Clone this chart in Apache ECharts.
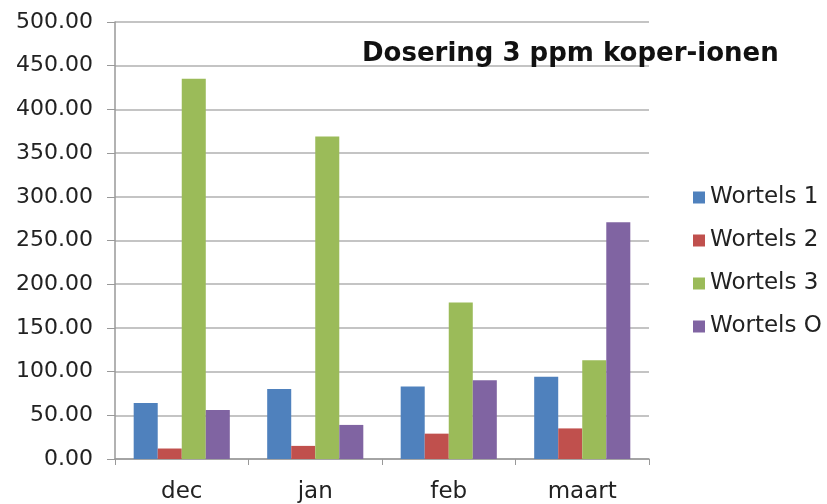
<!DOCTYPE html>
<html>
<head>
<meta charset="utf-8">
<script src="https://cdn.jsdelivr.net/npm/echarts@6/dist/echarts.min.js"></script>
<style>
  html, body { margin: 0; padding: 0; background: #fff; }
  #chart { width: 827px; height: 504px; }
</style>
</head>
<body>
<div id="chart"></div>
<script>
// categorieen en waarden
var months = ['dec', 'jan', 'feb', 'maart'];
var wortels1 = [64, 80, 83, 94];
var wortels2 = [12, 15, 29, 35];
var wortels3 = [435, 369, 179, 113];
var wortelsO = [56, 39, 90, 271];
var seriesNames = ['Wortels 1', 'Wortels 2', 'Wortels 3', 'Wortels O'];
var colors = ['#4f81bd', '#c0504d', '#9bbb59', '#8064a2'];

var font = 'DejaVu Sans';
var chart = echarts.init(document.getElementById('chart'));

var option = {
    animation: false,
    color: colors,
    title: {
        text: 'Dosering 3 ppm koper-ionen',
        left: 357,
        top: 36,
        textStyle: { fontFamily: font, fontSize: 26, fontWeight: 'bold', color: '#111' }
    },
    legend: {
        orient: 'vertical',
        left: 688,
        top: 181,
        itemWidth: 12,
        itemHeight: 12,
        itemGap: 20,
        icon: 'rect',
        data: seriesNames,
        textStyle: { fontFamily: font, fontSize: 23, color: '#222' }
    },
    grid: { left: 115, right: 178, top: 22, bottom: 44 },
    xAxis: {
        type: 'category',
        data: months,
        axisLine: { lineStyle: { color: '#999', width: 1.5 } },
        axisTick: { show: true, length: 6, lineStyle: { color: '#999' } },
        axisLabel: { fontFamily: font, fontSize: 23, color: '#222', margin: 22 }
    },
    yAxis: {
        type: 'value',
        min: 0,
        max: 500,
        interval: 50,
        axisLine: { show: true, lineStyle: { color: '#999', width: 1.5 } },
        axisTick: { show: true, length: 8, lineStyle: { color: '#999' } },
        splitLine: { lineStyle: { color: '#c4c4c4', width: 2 } },
        axisLabel: {
            fontFamily: font, fontSize: 22, color: '#222', margin: 22,
            formatter: function (v) { return v.toFixed(2); }
        }
    },
    series: [
        { name: seriesNames[0], type: 'bar', data: wortels1, barGap: '0%', barCategoryGap: '28%' },
        { name: seriesNames[1], type: 'bar', data: wortels2 },
        { name: seriesNames[2], type: 'bar', data: wortels3 },
        { name: seriesNames[3], type: 'bar', data: wortelsO }
    ]
};
chart.setOption(option);
</script>
</body>
</html>
